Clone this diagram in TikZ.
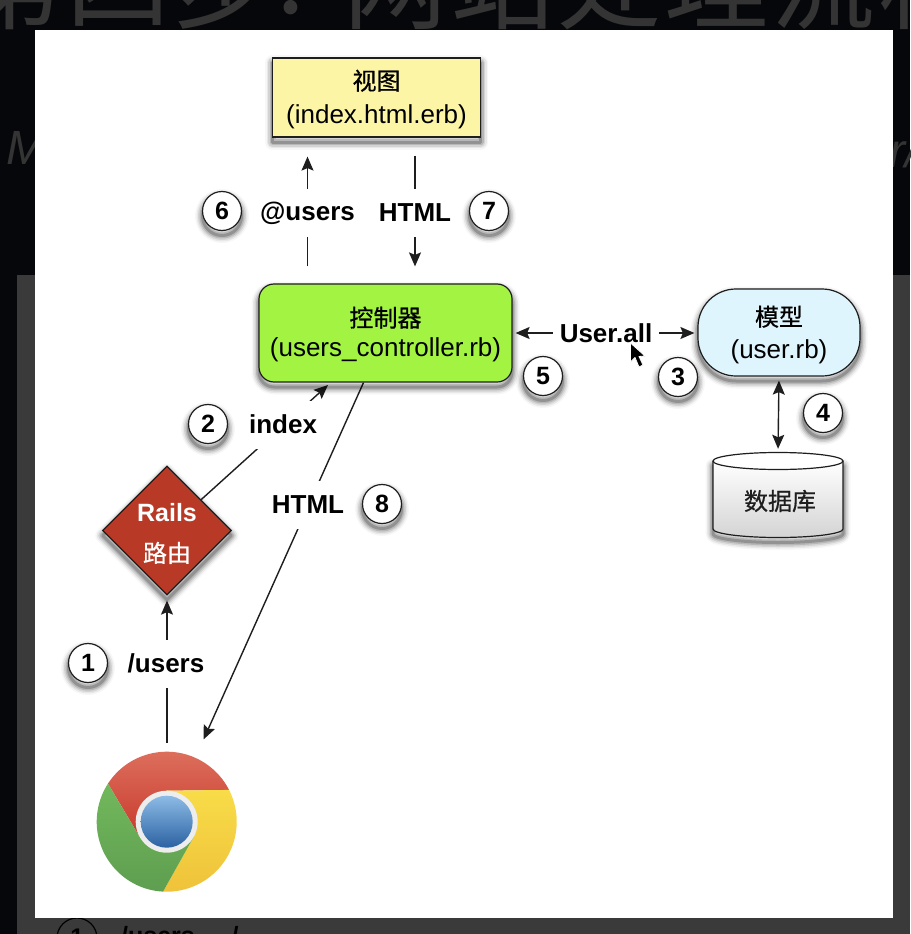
\documentclass[tikz,border=0pt]{standalone}
\usepackage{fontspec}
\setmainfont{Liberation Sans}
\newfontfamily\cjk[FakeBold=0.6]{Noto Sans CJK SC}
\newfontfamily\cjktitle{Noto Sans CJK SC}
\usetikzlibrary{shapes.geometric,arrows.meta,calc}
\pgfdeclarelayer{bg}
\pgfsetlayers{bg,main}
\definecolor{ink}{HTML}{1E1E1E}
\definecolor{cview}{HTML}{FDF5A6}
\definecolor{cctrl}{HTML}{A3F442}
\definecolor{cmodel}{HTML}{DFF5FD}
\definecolor{crails}{HTML}{B83A26}
\definecolor{redA}{HTML}{DF7462}
\definecolor{redB}{HTML}{C83A2C}
\definecolor{yelA}{HTML}{F8DC48}
\definecolor{yelB}{HTML}{EFC23A}
\definecolor{grnA}{HTML}{72B85C}
\definecolor{grnB}{HTML}{5E9E50}
\definecolor{bluA}{HTML}{8DBBE6}
\definecolor{bluB}{HTML}{2B62A2}
\definecolor{bgdark}{HTML}{06070A}
\definecolor{bggray}{HTML}{3A3A3A}
\definecolor{ghost}{HTML}{343434}
\tikzset{
  softshadow/.style={
    preaction={draw=black,line width=15pt,opacity=.03,line join=round,transform canvas={yshift=-5pt}},
    preaction={draw=black,line width=12pt,opacity=.06,line join=round,transform canvas={yshift=-5pt}},
    preaction={draw=black,line width=9pt,opacity=.09,line join=round,transform canvas={yshift=-5pt}},
    preaction={draw=black,line width=6pt,opacity=.13,line join=round,transform canvas={yshift=-5pt}},
    preaction={draw=black,line width=3pt,opacity=.20,line join=round,transform canvas={yshift=-5pt}}},
  box/.style={draw=ink,line width=1.2pt,inner sep=0pt,align=center,softshadow,
    font=\fontsize{26}{30}\selectfont},
  num/.style={circle,draw=ink,fill=white,line width=1.2pt,minimum size=39pt,inner sep=0pt,softshadow,
    font=\bfseries\fontsize{25}{25}\selectfont},
  lab/.style={fill=white,inner xsep=7pt,inner ysep=0pt,minimum height=48pt,
    font=\bfseries\fontsize{26}{26}\selectfont,text=black},
  conn/.style={draw=ink,line width=1.4pt},
  tip/.style={-{Stealth[length=14pt,width=12pt,inset=2.5pt]}},
  bothtips/.style={{Stealth[length=14pt,width=12pt,inset=2.5pt]}-{Stealth[length=14pt,width=12pt,inset=2.5pt]}},
  bgtext/.style={text=#1,inner sep=0pt},
  title/.style={bgtext=ghost,anchor=base,font=\cjktitle\fontsize{104}{104}\selectfont},
}
\begin{document}
\begin{tikzpicture}[x=1pt,y=-1pt]
\useasboundingbox (0,0) rectangle (910,934);
\begin{pgfonlayer}{bg}
  \begin{scope}
    \clip (0,0) rectangle (910,934);
    \fill[bgdark] (0,0) rectangle (910,934);
    \fill[bggray] (17,275) rectangle (910,934);
    \node[title] at (11,22) {第};
    \node[title] at (118,22) {四};
    \node[title] at (225,22) {步};
    \node[title] at (291,14) {:};
    \node[title] at (395,22) {网};
    \node[title] at (502,22) {站};
    \node[title] at (609,22) {处};
    \node[title] at (716,22) {理};
    \node[title] at (823,22) {流};
    \node[title] at (930,22) {程};
    \node[bgtext=ghost,font=\itshape\fontsize{48}{48}\selectfont] at (26,148) {M};
    \node[bgtext=ghost,font=\itshape\fontsize{48}{48}\selectfont] at (904,150) {r/};
    \draw[black,line width=1.2pt] (77,938) circle[radius=20];
    \node[bgtext=black,font=\bfseries\fontsize{24}{24}\selectfont] at (77,937) {1};
    \node[bgtext=black,font=\bfseries\fontsize{25}{25}\selectfont] at (158,936) {/users};
    \node[bgtext=black,font=\bfseries\fontsize{25}{25}\selectfont] at (235,936) {/};
  \end{scope}
  \fill[white] (35,30) rectangle (893,918);
\end{pgfonlayer}

% boxes
\node[box,fill=cview,minimum width=208pt,minimum height=79pt] (view) at (376.5,97.5)
  {{\cjk\fontsize{24}{32}\selectfont\rule{0pt}{24pt}视图}\\[4pt](index.html.erb)};
\node[box,fill=cctrl,rounded corners=15pt,minimum width=253pt,minimum height=98pt] (ctrl) at (385.5,333)
  {{\cjk\fontsize{24}{30}\selectfont\rule{0pt}{23pt}控制器}\\(users\_controller.rb)};
\node[box,fill=cmodel,rounded corners=38pt,minimum width=162pt,minimum height=87pt] (model) at (779,332.5)
  {{\cjk\fontsize{24}{32}\selectfont\rule{0pt}{25pt}模型}\\[3pt](user.rb)};
\node[box,diamond,aspect=1,fill=crails,text=white,minimum size=129pt] (rails) at (167,530.5)
  {\bfseries\fontsize{25}{30}\selectfont\rule{0pt}{24pt}Rails\\[11pt]{\cjk\fontsize{24}{26}\selectfont 路由}};

% database
\path[softshadow] (713,461) -- (713,529) arc[x radius=65,y radius=-8.5,start angle=180,end angle=360] -- (843,461) -- cycle;
\shade[top color=white,bottom color=black!17] (713,461) -- (713,529) arc[x radius=65,y radius=-8.5,start angle=180,end angle=360] -- (843,461) -- cycle;
\draw[ink,line width=1.2pt] (713,461) -- (713,529) arc[x radius=65,y radius=-8.5,start angle=180,end angle=360] -- (843,461);
\draw[ink,line width=1.2pt,fill=white] (778,461) ellipse[x radius=65,y radius=8.5];
\node[minimum width=130pt,minimum height=87pt,inner sep=0pt] (db) at (778,495.5) {};
\node[inner sep=0pt,font=\cjk\fontsize{24}{24}\selectfont,text=ink] (dbtext) at (780,501) {数据库};

% chrome
\node[circle,minimum size=140pt,inner sep=0pt] (chrome) at (166.7,821.7) {};
\begin{scope}[shift={(chrome.center)},x=1pt,y=1pt]
  \shade[top color=redA,bottom color=redB] (147:70) arc[start angle=147,end angle=27,radius=70] -- (90:31) -- (210:31) -- cycle;
  \shade[top color=yelA,bottom color=yelB] (27:70) arc[start angle=27,end angle=-93,radius=70] -- (-30:31) -- (90:31) -- cycle;
  \shade[top color=grnA,bottom color=grnB] (-93:70) arc[start angle=-93,end angle=-213,radius=70] -- (210:31) -- (-30:31) -- cycle;
  \fill[black!7] (0,0) circle[radius=31];
  \shade[top color=bluA,bottom color=bluB] (0,0) circle[radius=26];
\end{scope}

% labels
\node[lab] (l1) at (166,663.5) {/users};
\node[lab] (l2) at (283,424.5) {index};
\node[lab] (l6) at (307.5,213) {@users};
\node[lab,inner xsep=0pt] (l7) at (415,213) {HTML};
\node[lab] (l8) at (308,504.5) {HTML};
\node[lab] (l3) at (606,333) {User.all};

% connectors
\coordinate (idxend) at (328,385);
\begin{pgfonlayer}{bg}
  \draw[conn,tip,shorten <=9pt,shorten >=5pt] (chrome.north -| rails.south) -- (rails.south);
  \draw[conn,tip] (rails) -- (idxend);
  \draw[conn,tip,shorten <=17pt,shorten >=19pt] (ctrl.north -| l6) -- (view.south -| l6);
  \draw[conn,tip,shorten <=18pt,shorten >=17pt] (view.south -| l7) -- (ctrl.north -| l7);
  \draw[conn,tip,shorten >=20pt] ([xshift=-22pt]ctrl.south) -- (chrome);
  \draw[conn,bothtips,shorten <=3pt,shorten >=3pt] (ctrl.east |- l3) -- (model.west |- l3);
  \draw[conn,bothtips,shorten <=4pt,shorten >=3pt] (model.south) -- (db.north);
\end{pgfonlayer}

% numbers
\node[num] (n1) at (88,663) {1};
\node[num] (n2) at (208,424) {2};
\node[num] (n3) at (678,377) {3};
\node[num] (n4) at (823,413) {4};
\node[num] (n5) at (543,376) {5};
\node[num] (n6) at (222,211) {6};
\node[num] (n7) at (489,211) {7};
\node[num] (n8) at (382,504) {8};

% mouse cursor
\path[fill=black,draw=white,line width=.8pt,line join=round] (630.5,343) -- (630.5,362) -- (635,357.5) -- (639,367) -- (643,365) -- (639,356.5) -- (645,356) -- cycle;
\end{tikzpicture}
\end{document}
